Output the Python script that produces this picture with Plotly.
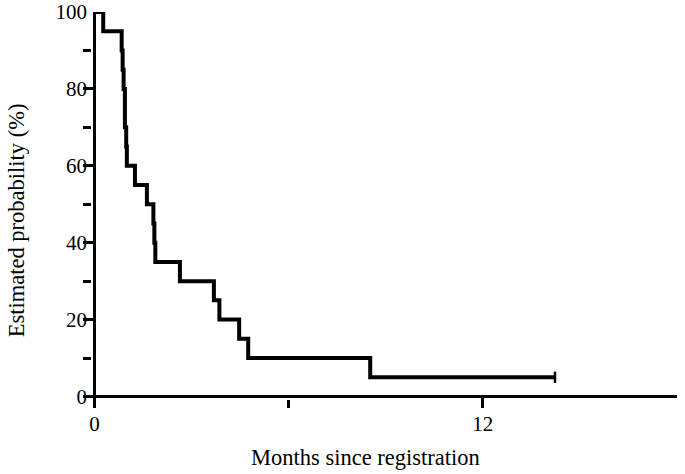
import plotly.graph_objects as go

# Kaplan-Meier estimate
months = [0, 0.27, 0.84, 0.87, 0.90, 0.94, 0.98, 1.00, 1.25, 1.62, 1.82, 1.85, 1.88,
          2.64, 3.69, 3.86, 4.47, 4.75, 8.52, 14.23]
prob = [100, 95, 90, 85, 80, 70, 65, 60, 55, 50, 45, 40, 35,
        30, 25, 20, 15, 10, 5, 5]
censor_month = [14.23]
censor_prob = [5]

x_ticks = [0, 12]
y_ticks = [0, 20, 40, 60, 80, 100]

font = "Liberation Serif, Times New Roman, serif"

fig = go.Figure()
fig.add_trace(go.Scatter(x=months, y=prob, mode="lines", line_shape="hv",
                         line=dict(color="black", width=4), cliponaxis=False))
fig.add_trace(go.Scatter(x=censor_month, y=censor_prob, mode="markers",
                         marker=dict(symbol="line-ns", size=8,
                                     line=dict(color="black", width=2.5)),
                         cliponaxis=False))

# plot area: 83..677 px wide, 11.5..408 px high
fig.update_layout(
    width=685, height=474,
    margin=dict(l=83, r=8, t=11.5, b=66),
    plot_bgcolor="white", paper_bgcolor="white",
    showlegend=False,
    font=dict(family=font, color="black", size=21),
    annotations=[
        dict(text="Months since registration", xref="paper", yref="paper",
             x=0.4764, y=-0.126, xanchor="center", yanchor="middle",
             showarrow=False, font=dict(size=22.5)),
        dict(text="Estimated probability (%)", xref="paper", yref="paper",
             x=-0.1128, y=0.474, xanchor="center", yanchor="middle",
             textangle=-90, showarrow=False, font=dict(size=22.5)),
    ],
)
fig.update_xaxes(
    range=[-0.355, 18], tickvals=x_ticks, ticks="inside", ticklen=11, tickwidth=3,
    tickcolor="black", minor=dict(dtick=6, tick0=0, ticks="inside", ticklen=8,
                                  tickwidth=3, tickcolor="black"),
    showgrid=False, showline=False, automargin=False,
    zeroline=True, zerolinecolor="black", zerolinewidth=3,
    tickfont=dict(size=21), ticklabelstandoff=1,
)
fig.update_yaxes(
    range=[-3.0, 100], tickvals=y_ticks, ticks="inside", ticklen=12, tickwidth=3,
    tickcolor="black", minor=dict(dtick=10, tick0=0, ticks="inside", ticklen=8,
                                  tickwidth=3, tickcolor="black"),
    showgrid=False, showline=False, automargin=False,
    zeroline=True, zerolinecolor="black", zerolinewidth=3,
    tickfont=dict(size=21), ticklabelstandoff=-5,
)

fig.write_html("out.html", config={"displayModeBar": False},
               post_script="document.body.style.margin='0';")
